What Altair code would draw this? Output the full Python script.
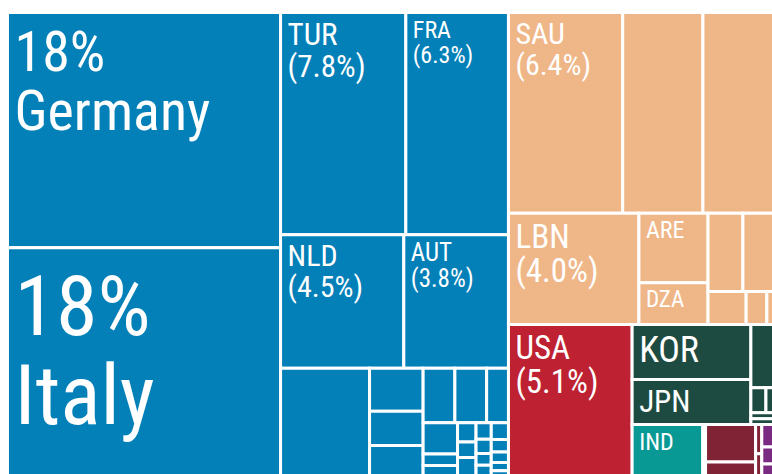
import altair as alt
import pandas as pd

# ---------------- data ----------------
# leaf tiles: code, share of exports (%), region
names = [
    "DEU", "ITA", "TUR", "FRA", "NLD", "AUT",
    "ESP", "GBR", "BEL", "POL", "CHE", "GRC", "ROU",
    "CZE", "HUN", "SWE", "BGR", "SVN", "PRT",
    "DNK", "SVK", "HRV", "SRB", "UKR", "FIN", "IRL", "LTU", "NOR",
    "SAU", "IRQ", "ISR", "LBN", "ARE", "DZA", "EGY", "IRN", "JOR", "KWT", "QAT",
    "USA",
    "KOR", "JPN", "CHN", "TWN", "SGP", "HKG", "MYS",
    "IND", "PAK", "ZAF", "NGA", "MAR", "TUN", "AUS", "NZL", "BRA",
]
values = [
    17.88, 17.42, 7.75, 6.35, 4.58, 3.89,
    2.69, 0.64, 0.51, 0.47, 0.48, 0.48, 0.33,
    0.30, 0.11, 0.11, 0.10, 0.08, 0.10,
    0.07, 0.06, 0.05, 0.05, 0.08, 0.06, 0.05, 0.04, 0.03,
    6.38, 4.48, 4.36, 4.04, 1.34, 0.80, 0.76, 0.83, 0.35, 0.19, 0.13,
    5.25,
    1.82, 1.49, 0.53, 0.105, 0.105, 0.05, 0.05,
    1.03, 0.04, 0.52, 0.21, 0.05, 0.04, 0.12, 0.09, 0.07,
]
regions = (
    ["Europe"] * 28
    + ["Middle East & N. Africa"] * 11
    + ["North America"]
    + ["East Asia"] * 7
    + ["South Asia"] * 2
    + ["Africa"] * 4
    + ["Other"] * 3
)
region_names = ["Europe", "Middle East & N. Africa", "North America",
                "East Asia", "South Asia", "Africa", "Other"]
region_colors = ["#0480B9", "#EFB688", "#BE2132",
                 "#1D4B41", "#089994", "#802335", "#7B2A82"]

# labels shown on the tiles
label_codes = ["DEU", "ITA", "TUR", "FRA", "NLD", "AUT", "SAU", "LBN",
               "USA", "ARE", "DZA", "KOR", "JPN", "IND"]
label_line1 = ["18%", "18%", "TUR", "FRA", "NLD", "AUT", "SAU", "LBN",
               "USA", "ARE", "DZA", "KOR", "JPN", "IND"]
label_line2 = ["Germany", "Italy", "(7.8%)", "(6.3%)", "(4.5%)", "(3.8%)",
               "(6.4%)", "(4.0%)", "(5.1%)", "", "", "", "", ""]
label_sizes = [56, 84, 31, 24, 30, 25, 30, 33, 33, 24, 23, 36, 31, 24]

# treemap nesting: (split direction, children)
tree = ("x", [
    ("x", [
        ("y", ["DEU", "ITA"]),
        ("y", [
            ("x", ["TUR", "FRA"]),
            ("x", ["NLD", "AUT"]),
            ("x", [
                "ESP",
                ("y", ["GBR", "BEL", "POL"]),
                ("y", [
                    ("x", ["CHE", "GRC", "ROU"]),
                    ("x", [
                        ("y", ["CZE", "HUN", "SWE"]),
                        ("y", ["BGR", "SVN", "PRT"]),
                        ("y", ["DNK", "SVK", "HRV", "SRB"]),
                        ("y", ["UKR", "FIN", "IRL", "LTU", "NOR"]),
                    ]),
                ]),
            ]),
        ]),
    ]),
    ("y", [
        ("y", [
            ("x", ["SAU", "IRQ", "ISR"]),
            ("x", [
                "LBN",
                ("y", ["ARE", "DZA"]),
                ("y", [("x", ["EGY", "IRN"]), ("x", ["JOR", "KWT", "QAT"])]),
            ]),
        ]),
        ("x", [
            "USA",
            ("y", [
                ("x", [
                    ("y", ["KOR", "JPN"]),
                    ("y", ["CHN", ("x", ["TWN", "SGP"]), "HKG", "MYS"]),
                ]),
                ("x", [
                    "IND", "PAK",
                    ("y", ["ZAF", "NGA"]),
                    ("y", ["MAR", "TUN"]),
                    ("y", ["AUS", "NZL", "BRA"]),
                ]),
            ]),
        ]),
    ]),
])

# ---------------- layout ----------------
val = dict(zip(names, values))


def total(node):
    if isinstance(node, str):
        return val[node]
    return sum(total(c) for c in node[1])


def layout(node, x0, y0, x1, y1, out):
    if isinstance(node, str):
        out[node] = (x0, y0, x1, y1)
        return
    d, kids = node
    s = total(node)
    pos = x0 if d == "x" else y0
    for k in kids:
        f = total(k) / s
        if d == "x":
            w = (x1 - x0) * f
            layout(k, pos, y0, pos + w, y1, out)
            pos += w
        else:
            h = (y1 - y0) * f
            layout(k, x0, pos, x1, pos + h, out)
            pos += h


boxes = {}
layout(tree, -1.5, -1.5, 772, 463, boxes)

VIEW_W, VIEW_H = 763, 460

rect_df = pd.DataFrame({
    "code": names,
    "value": values,
    "region": regions,
    "x0": [boxes[n][0] for n in names],
    "y0": [boxes[n][1] for n in names],
    "x1": [boxes[n][2] for n in names],
    "y1": [boxes[n][3] for n in names],
})

rows = []
for code, l1, l2, fs in zip(label_codes, label_line1, label_line2, label_sizes):
    x0, y0, _, _ = boxes[code]
    b1 = y0 + 0.6 + 1.03 * fs
    rows.append({"tx": x0 + 7, "ty": b1, "text": l1, "fs": fs})
    if l2:
        rows.append({"tx": x0 + 7, "ty": b1 + 1.07 * fs - 1, "text": l2, "fs": fs})
lab_df = pd.DataFrame(rows)

xs = alt.Scale(domain=[0, VIEW_W], nice=False, zero=False)
ys = alt.Scale(domain=[0, VIEW_H], nice=False, zero=False, reverse=True)

rects = alt.Chart(rect_df).mark_rect(stroke="white", strokeWidth=3, clip=True).encode(
    x=alt.X("x0:Q", scale=xs, axis=None),
    x2="x1:Q",
    y=alt.Y("y0:Q", scale=ys, axis=None),
    y2="y1:Q",
    color=alt.Color("region:N", scale=alt.Scale(domain=region_names, range=region_colors),
                    legend=None),
    tooltip=["code:N", "value:Q"],
)

texts = alt.Chart(lab_df).mark_text(
    align="left", baseline="alphabetic", color="white",
    font="Roboto Condensed, Roboto, sans-serif", clip=True,
).encode(
    x=alt.X("tx:Q", scale=xs, axis=None),
    y=alt.Y("ty:Q", scale=ys, axis=None),
    text="text:N",
    size=alt.Size("fs:Q", scale=None, legend=None),
)

chart = alt.layer(rects, texts).properties(
    width=VIEW_W, height=VIEW_H,
    padding={"left": 9, "top": 14, "right": 0, "bottom": 0},
    autosize=alt.AutoSizeParams(type="none"),
    background="white",
).configure_view(stroke=None)

chart.save("out.html", embed_options={"renderer": "svg", "actions": False})
